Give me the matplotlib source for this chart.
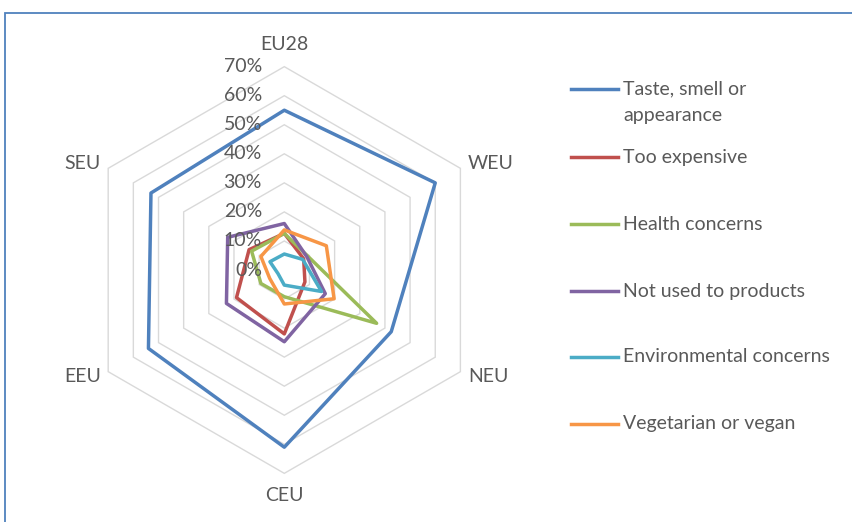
import numpy as np
import matplotlib
matplotlib.use("Agg")
import matplotlib.pyplot as plt
from matplotlib.lines import Line2D
from matplotlib.patches import Rectangle

plt.rcParams['font.family'] = ['Lato', 'DejaVu Sans']

categories = ["EU28", "WEU", "NEU", "CEU", "EEU", "SEU"]
series_names = ["Taste, smell or\nappearance", "Too expensive", "Health concerns",
                "Not used to products", "Environmental concerns", "Vegetarian or vegan"]
taste = [55, 60, 42.5, 61, 54, 53]
expensive = [12.6, 7.7, 8.2, 22, 19, 14]
health = [12.6, 9.4, 36.7, 9.2, 9.3, 13]
not_used = [16, 9, 16.3, 24.7, 23, 22.5]
environmental = [5.5, 7.3, 14.8, 5.2, 2.5, 5.7]
vegetarian = [13.8, 16.7, 19.8, 11.7, 5.8, 9.3]
tick_values = [0, 10, 20, 30, 40, 50, 60, 70]
tick_labels = ["0%", "10%", "20%", "30%", "40%", "50%", "60%", "70%"]

all_series = [taste, expensive, health, not_used, environmental, vegetarian]
colors = ["#4F81BD", "#C0504D", "#9BBB59", "#8064A2", "#4BACC6", "#F79646"]
text_color = "#595959"
fs = 14

W, H = 853, 522
fig = plt.figure(figsize=(W / 100, H / 100), dpi=100)

# axes: center at pixel (284.3, 270 from top), 2.905 px per % unit
scale = 2.905
L = 85
cx, cy = 284.3, H - 270
aw = 2 * L * scale
ax = fig.add_axes([(cx - aw / 2) / W, (cy - aw / 2) / H, aw / W, aw / H])
ax.set_xlim(-L, L)
ax.set_ylim(-L, L)
ax.set_aspect('equal')
ax.axis('off')

n = len(categories)
theta = np.deg2rad(90 - 60 * np.arange(n))
ct, st = np.cos(theta), np.sin(theta)

# hexagonal grid
for v in tick_values[1:]:
    ax.fill(v * ct, v * st, fill=False, edgecolor="#D9D9D9", lw=1.0, zorder=1,
            clip_on=False)

# series
for vals, col in zip(all_series, colors):
    r = np.array(vals, dtype=float)
    ax.fill(r * ct, r * st, fill=False, edgecolor=col, lw=2.5, zorder=3,
            joinstyle='round', clip_on=False)

# tick labels
for v, lab in zip(tick_values, tick_labels):
    ax.text(-7.7, v, lab, ha='right', va='center', fontsize=fs, color=text_color, zorder=4)

# category labels
for i, cat in enumerate(categories):
    c, s = ct[i], st[i]
    if abs(c) < 1e-6:
        ax.text(0, 77.5 * np.sign(s), cat, ha='center', va='center', fontsize=fs,
                color=text_color, clip_on=False)
    else:
        ax.text(73 * c, 73 * s, cat, ha='left' if c > 0 else 'right', va='center',
                fontsize=fs, color=text_color, clip_on=False)

# legend (manual)
leg_y = [89, 157, 224, 291, 357, 424]
for name, col, y in zip(series_names, colors, leg_y):
    fy = (H - y) / H
    fig.add_artist(Line2D([571 / W, 618 / W], [fy, fy], color=col, lw=2.5))
    lines = name.split("\n")
    for k, ln in enumerate(lines):
        fig.text(623 / W, (H - y - 27 * k) / H, ln, ha='left', va='center',
                 fontsize=fs, color=text_color)

# chart frame
fig.add_artist(Rectangle((5 / W, -0.1), 1.2, (H - 13) / H + 0.1, transform=fig.transFigure,
                         fill=False, edgecolor="#4F81BD", lw=1.3))

fig.savefig("out.png", dpi=100)
